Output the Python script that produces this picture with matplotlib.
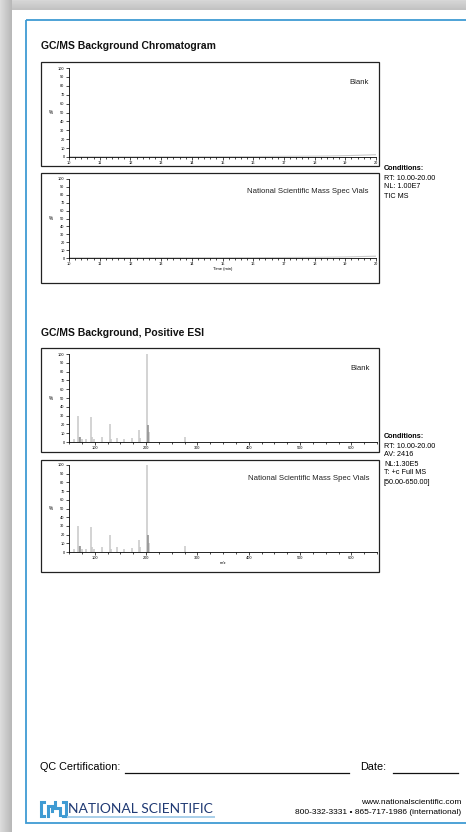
import numpy as np
import matplotlib
matplotlib.use("Agg")
import matplotlib.pyplot as plt
from matplotlib.patches import Rectangle

W, H = 466, 832

# chromatogram traces (TIC, % of NL)
chrom_time = [10.0, 12.0, 14.0, 16.0, 17.0, 18.0, 18.5, 19.0, 19.5, 20.0]
chrom_blank = [0.3, 0.3, 0.4, 0.5, 0.7, 0.9, 1.1, 1.5, 2.0, 2.6]
chrom_vials = [0.3, 0.3, 0.4, 0.5, 0.6, 0.8, 1.0, 1.3, 1.8, 2.3]

# ESI spectra (m/z vs relative abundance)
mz = [59, 68, 70, 75, 84, 92, 94, 98, 114, 130, 132, 143, 158, 172, 186, 188, 202, 206, 275]
blank_int = [3, 29, 6, 3, 3, 28, 6, 3, 6, 20, 3, 5, 3, 4, 14, 5, 100, 11, 6]
vials_int = [3, 30, 7, 3, 3, 29, 6, 3, 6, 20, 3, 6, 3, 5, 14, 6, 100, 10, 7]
dark_mz = [71, 204]
dark_blank = [6, 19]
dark_vials = [7, 20]

chrom_ticks = list(range(10, 21))
mz_ticks = [100, 200, 300, 400, 500, 600]
pct_ticks = list(range(0, 101, 10))

cond_tic = ["RT: 10.00-20.00", "NL: 1.00E7", "TIC MS"]
cond_esi = ["RT: 10.00-20.00", "AV: 2416", "NL:1.30E5", "T: +c Full MS", "[50.00-650.00]"]

SANS = ["Liberation Sans", "DejaVu Sans"]
plt.rcParams["font.family"] = SANS

fig = plt.figure(figsize=(W / 100, H / 100), dpi=100)

# page layer in pixel coordinates
pg = fig.add_axes([0, 0, 1, 1])
pg.set_xlim(0, W)
pg.set_ylim(H, 0)
pg.axis("off")

bg = np.ones((H, W))
bg[:, :12] = np.linspace(0.86, 0.72, 12)[None, :]
bg[:10, 12:] = np.linspace(0.84, 0.76, 10)[:, None]
pg.imshow(bg, cmap="gray", vmin=0, vmax=1, extent=(0, W, H, 0), aspect="auto")
pg.add_patch(Rectangle((26, 20), W, 803, fill=False, ec="#3f9bd3", lw=1.3))

BLUE = "#3f9bd3"
NAVY = "#203a74"
GREY = "#c8c8c8"


def px(x0, y0, x1, y1):
    return [x0 / W, 1 - y1 / H, (x1 - x0) / W, (y1 - y0) / H]


def panel(box, axbox, label, xl, xticks, minor, xlabel=None):
    pg.add_patch(Rectangle((box[0], box[1]), box[2] - box[0], box[3] - box[1],
                           fill=False, ec="#222222", lw=0.9))
    ax = fig.add_axes(px(*axbox))
    ax.patch.set_alpha(0)
    for s in ["top", "right"]:
        ax.spines[s].set_visible(False)
    for s in ["left", "bottom"]:
        ax.spines[s].set_linewidth(0.6)
    ax.set_xlim(*xl)
    ax.set_ylim(0, 100)
    ax.set_xticks(xticks)
    ax.set_xticks(minor, minor=True)
    ax.set_yticks(pct_ticks)
    ax.tick_params(direction="out", length=2.2, width=0.5, labelsize=2.8, pad=1)
    ax.tick_params(which="minor", length=1.5, width=0.5)
    ax.set_ylabel("%", fontsize=3.4, rotation=0, labelpad=5, va="center")
    if xlabel:
        ax.set_xlabel(xlabel, fontsize=3, labelpad=0.5)
    ax.text(0.975, 0.84, label, transform=ax.transAxes, ha="right", va="center",
            fontsize=5.6, color="#222222")
    return ax


# chromatograms
pg.text(41, 46, "GC/MS Background Chromatogram", fontsize=7.5, weight="bold",
        va="center", color="#111111")
minor_t = [t / 5 for t in range(50, 101)]
a1 = panel((41, 62, 379, 166), (69, 68, 376, 157), "Blank", (10, 20), chrom_ticks, minor_t)
a1.plot(chrom_time, chrom_blank, color=GREY, lw=0.8)
a2 = panel((41, 173, 379, 283), (69, 179, 376, 258), "National Scientific Mass Spec Vials",
           (10, 20), chrom_ticks, minor_t, "Time (min)")
a2.plot(chrom_time, chrom_vials, color=GREY, lw=0.8)

# ESI spectra
pg.text(41, 333, "GC/MS Background, Positive ESI", fontsize=7.5, weight="bold",
        va="center", color="#111111")
minor_mz = list(range(50, 651, 25))
a3 = panel((41, 348, 379, 452), (69, 354, 377, 442), "Blank", (50, 650), mz_ticks, minor_mz)
a3.vlines(mz, 0, blank_int, colors=GREY, lw=1.1)
a3.vlines(dark_mz, 0, dark_blank, colors="#8c8c8c", lw=1.1)
a4 = panel((41, 460, 379, 572), (69, 465, 377, 552), "National Scientific Mass Spec Vials",
           (50, 650), mz_ticks, minor_mz, "m/z")
a4.vlines(mz, 0, vials_int, colors=GREY, lw=1.1)
a4.vlines(dark_mz, 0, dark_vials, colors="#8c8c8c", lw=1.1)


def conditions(y, lines):
    pg.text(384, y, "Conditions:", fontsize=5.2, weight="bold", va="center")
    for i, t in enumerate(lines):
        pg.text(384, y + 9 * (i + 1), t, fontsize=5.2, va="center")


conditions(169, cond_tic)
conditions(437, cond_esi)

# footer
pg.text(40, 767, "QC Certification:", fontsize=7.8, va="center")
pg.plot([125, 349], [773, 773], color="#111111", lw=0.9)
pg.text(360, 767, "Date:", fontsize=7.8, va="center")
pg.plot([393, 458], [773, 773], color="#111111", lw=0.9)

yl = 809
pg.plot([44, 41, 41, 44], [yl - 7, yl - 7, yl + 7, yl + 7], color=BLUE, lw=2.2, solid_joinstyle="miter")
pg.plot([47.5, 47.5, 52, 52], [yl + 7, yl - 3, yl - 3, yl + 2], color=BLUE, lw=2.2, solid_joinstyle="miter")
pg.plot([55, 55, 60, 60], [yl - 7, yl - 1, yl - 1, yl + 6], color=BLUE, lw=2.2, solid_joinstyle="miter")
pg.plot([63, 66, 66, 63], [yl - 7, yl - 7, yl + 7, yl + 7], color=BLUE, lw=2.2, solid_joinstyle="miter")
pg.text(68, yl, "NATIONAL SCIENTIFIC", fontsize=10, family=["Lato", "DejaVu Sans"],
        color=NAVY, va="center")
pg.plot([68, 214], [yl + 7.5, yl + 7.5], color="#a8cfea", lw=1.4)

pg.text(461, 803, "www.nationalscientific.com", fontsize=6, ha="right", va="center")
pg.text(461, 813, "800-332-3331 \u2022 865-717-1986 (international)", fontsize=6,
        ha="right", va="center")

fig.savefig("out.png", dpi=100)
